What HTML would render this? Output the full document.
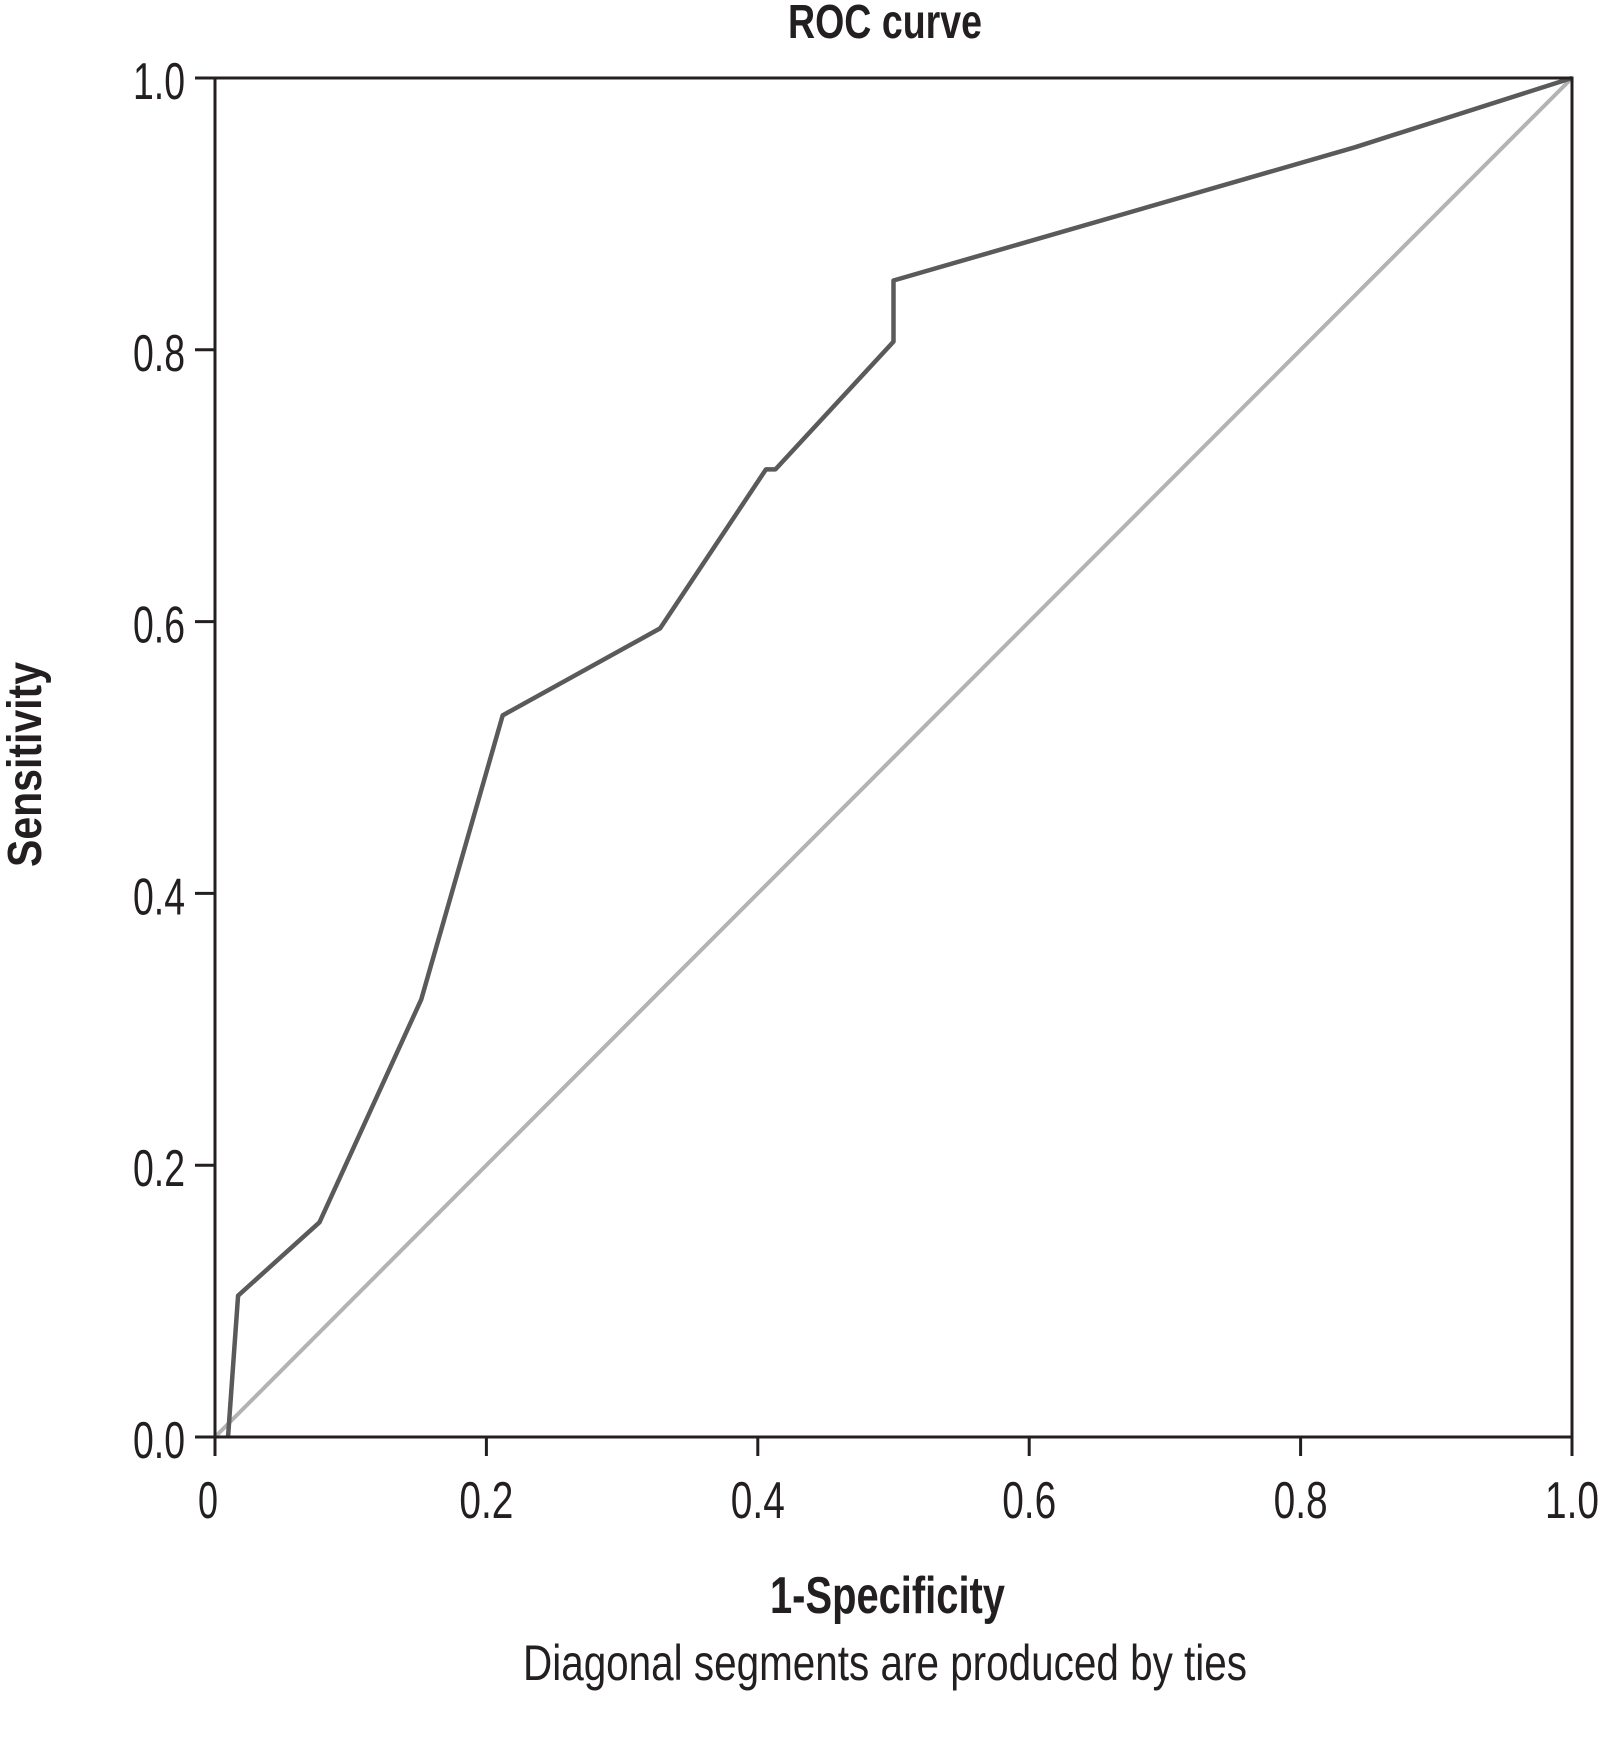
<!DOCTYPE html>
<html><head><meta charset="utf-8"><style>
html,body{margin:0;padding:0;background:#fff;width:1600px;height:1739px;overflow:hidden}
svg{display:block}
text{font-family:"Liberation Sans",sans-serif;fill:#231f20}
</style></head><body>
<svg id="chart" width="1600" height="1739" viewBox="0 0 1600 1739" xmlns="http://www.w3.org/2000/svg">
<text x="788" y="38" font-size="48" font-weight="bold" textLength="194" lengthAdjust="spacingAndGlyphs">ROC curve</text>
<text transform="translate(41,867) rotate(-90)" font-size="48" font-weight="bold" textLength="205" lengthAdjust="spacingAndGlyphs">Sensitivity</text>
<text x="770" y="1613" font-size="52" font-weight="bold" textLength="235" lengthAdjust="spacingAndGlyphs">1-Specificity</text>
<text x="523" y="1680" font-size="50" textLength="724" lengthAdjust="spacingAndGlyphs">Diagonal segments are produced by ties</text>
<g id="ticks"></g>
<g id="series"></g>
<g id="axes"></g>
</svg>
<script>
const xTicks = [0, 0.2, 0.4, 0.6, 0.8, 1.0];
const xTickLabels = ["0", "0.2", "0.4", "0.6", "0.8", "1.0"];
const yTicks = [0, 0.2, 0.4, 0.6, 0.8, 1.0];
const yTickLabels = ["0.0", "0.2", "0.4", "0.6", "0.8", "1.0"];
const rocFpr = [0.0096, 0.017, 0.077, 0.152, 0.212, 0.328, 0.406, 0.413, 0.5, 0.5, 0.84, 1.0];
const rocTpr = [0, 0.104, 0.158, 0.322, 0.531, 0.595, 0.712, 0.712, 0.806, 0.851, 0.949, 1.0];
const refX = [0, 1];
const refY = [0, 1];

const NS = "http://www.w3.org/2000/svg";
const X0 = 215, X1 = 1572, Y0 = 1437, Y1 = 78;
function sx(v){ return X0 + v * (X1 - X0); }
function sy(v){ return Y0 - v * (Y0 - Y1); }
function mk(tag, attrs, parent){
  const e = document.createElementNS(NS, tag);
  for (const k in attrs) e.setAttribute(k, attrs[k]);
  parent.appendChild(e);
  return e;
}
const tg = document.getElementById('ticks');
const sg = document.getElementById('series');
const ag = document.getElementById('axes');

xTicks.forEach((v, i) => {
  const l = mk('line', {x1: sx(v), x2: sx(v), y1: Y0, y2: Y0 + 19, stroke: '#231f20', 'stroke-width': 3}, tg);
  
  
  const t = mk('text', {x: sx(v) - (i === 0 ? 7 : 0), y: 1518, 'font-size': 52, 'text-anchor': 'middle', textLength: xTickLabels[i].length > 1 ? 54 : 20, lengthAdjust: 'spacingAndGlyphs'}, tg);
  t.textContent = xTickLabels[i];
  
  
});
yTicks.forEach((v, i) => {
  const l = mk('line', {x1: X0 - 20, x2: X0, y1: sy(v), y2: sy(v), stroke: '#231f20', 'stroke-width': 3}, tg);
  
  
  const t = mk('text', {x: 185, y: sy(v) + 21, 'font-size': 52, 'text-anchor': 'end', textLength: 52, lengthAdjust: 'spacingAndGlyphs'}, tg);
  t.textContent = yTickLabels[i];
  
  
});

const ref = mk('polyline', {points: refX.map((v, i) => sx(v) + ',' + sy(refY[i])).join(' '), fill: 'none', stroke: '#b3b3b3', 'stroke-width': 4}, sg);


const roc = mk('polyline', {points: rocFpr.map((v, i) => sx(v) + ',' + sy(rocTpr[i])).join(' '), fill: 'none', stroke: '#5a5a5a', 'stroke-width': 4.5, 'stroke-linejoin': 'round'}, sg);



const frame = mk('rect', {x: X0, y: Y1, width: X1 - X0, height: Y0 - Y1, fill: 'none', stroke: '#231f20', 'stroke-width': 3}, ag);


</script>
</body></html>
